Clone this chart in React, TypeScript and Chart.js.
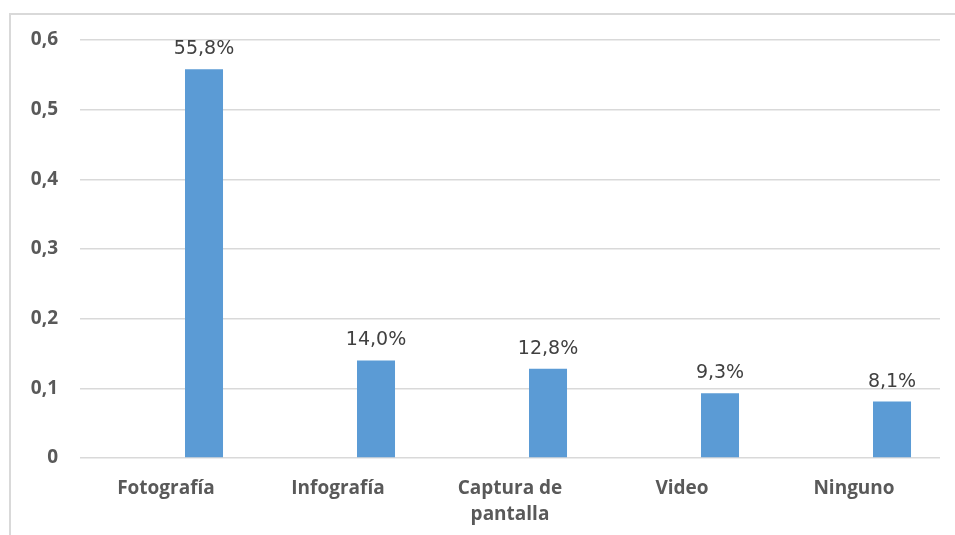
import React, { useEffect, useRef } from "react";
import { Chart, registerables } from "chart.js";

Chart.register(...registerables);

const categories: (string | string[])[] = ["Fotografía", "Infografía", ["Captura de", "pantalla"], "Video", "Ninguno"];
const values: number[] = [0.558, 0.14, 0.128, 0.093, 0.081];
const emptySeries: (number | null)[] = [null, null, null, null, null];
const yTicks: number[] = [0, 0.1, 0.2, 0.3, 0.4, 0.5, 0.6];

const TICK_FONT = "'Open Sans', 'DejaVu Sans', sans-serif";
const LABEL_FONT = "'DejaVu Sans', 'Open Sans', sans-serif";

const fmtComma = (v: number, digits: number) => v.toFixed(digits).replace(".", ",");

const labelPlugin = {
  id: "valueLabels",
  afterDatasetsDraw(chart: any) {
    const ctx = chart.ctx;
    const meta = chart.getDatasetMeta(1);
    ctx.save();
    ctx.font = `19px ${LABEL_FONT}`;
    ctx.fillStyle = "#404040";
    ctx.textAlign = "center";
    ctx.textBaseline = "alphabetic";
    meta.data.forEach((bar: any, i: number) => {
      const v = values[i];
      ctx.fillText(fmtComma(v * 100, 1) + "%", bar.x, bar.y - 15);
    });
    ctx.restore();
  },
};

const framePlugin = {
  id: "frame",
  beforeDraw(chart: any) {
    const ctx = chart.ctx;
    ctx.save();
    ctx.strokeStyle = "#d9d9d9";
    ctx.lineWidth = 2;
    ctx.beginPath();
    ctx.moveTo(10, chart.height);
    ctx.lineTo(10, 14);
    ctx.lineTo(chart.width, 14);
    ctx.stroke();
    ctx.restore();
  },
};

export default function App() {
  const ref = useRef<HTMLCanvasElement>(null);
  useEffect(() => {
    document.body.style.margin = "0";
    const chart = new Chart(ref.current!, {
      type: "bar",
      data: {
        labels: categories as any,
        datasets: [
          { label: "empty", data: emptySeries as any, backgroundColor: "#5b9bd5" },
          { label: "Serie", data: values, backgroundColor: "#5b9bd5" },
        ],
      },
      options: {
        animation: false,
        responsive: false,
        maintainAspectRatio: false,
        datasets: { bar: { categoryPercentage: 0.884, barPercentage: 0.5 } } as any,
        layout: { padding: { top: 40, right: 15, left: 0, bottom: 0 } },
        plugins: { legend: { display: false }, tooltip: { enabled: false } },
        scales: {
          x: {
            grid: { display: false },
            border: { display: false },
            ticks: {
              font: { family: TICK_FONT, size: 19, weight: "bold", lineHeight: 1.35 },
              color: "#595959",
              padding: 10,
              maxRotation: 0,
              autoSkip: false,
            },
            afterFit(scale: any) {
              scale.height = 77;
            },
          },
          y: {
            min: 0,
            max: 0.6,
            afterBuildTicks(scale: any) {
              scale.ticks = yTicks.map((v) => ({ value: v }));
            },
            grid: { color: "#d9d9d9", lineWidth: 1.5, drawTicks: false },
            border: { display: false },
            ticks: {
              font: { family: TICK_FONT, size: 19, weight: "bold" },
              color: "#595959",
              padding: 22,
              callback: (v: any) => (Number(v) === 0 ? "0" : fmtComma(Number(v), 1)),
            },
            afterFit(scale: any) {
              scale.width = 80;
            },
          },
        },
      },
      plugins: [framePlugin, labelPlugin],
    });
    return () => chart.destroy();
  }, []);
  return (
    <div style={{ position: "fixed", left: 0, top: 0, width: 955, height: 535, background: "#fff" }}>
      <canvas ref={ref} width={955} height={535} style={{ width: 955, height: 535, display: "block" }} />
    </div>
  );
}
